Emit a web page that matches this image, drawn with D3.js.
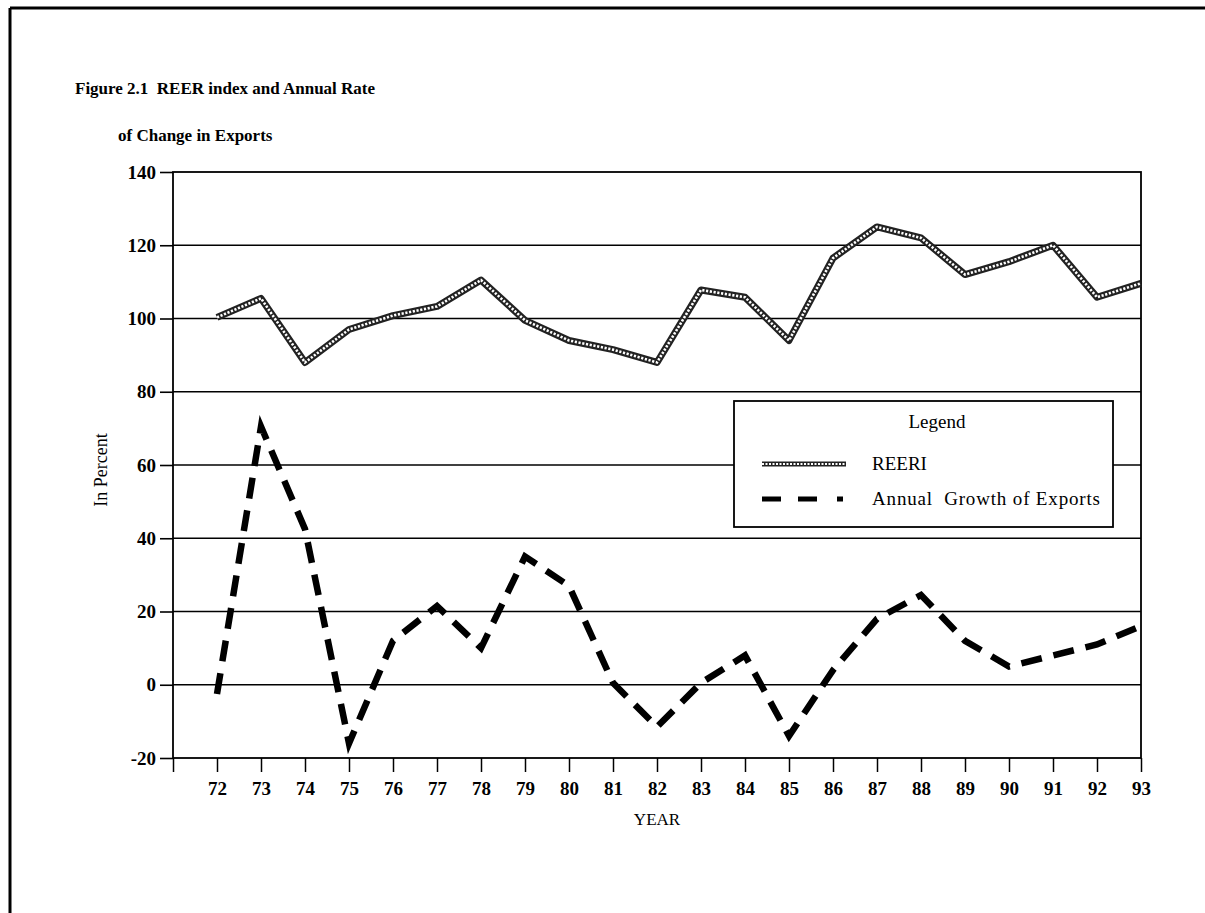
<!DOCTYPE html>
<html>
<head>
<meta charset="utf-8">
<script src="https://cdn.jsdelivr.net/npm/d3@7"></script>
<style>
  html, body { margin: 0; padding: 0; background: #fff; }
  svg { display: block; }
  text { font-family: "Liberation Serif", "DejaVu Serif", serif; fill: #000; white-space: pre; }
</style>
</head>
<body>
<svg id="chart" width="1205" height="913"></svg>
<script>
// ---- data ----
const years = [72,73,74,75,76,77,78,79,80,81,82,83,84,85,86,87,88,89,90,91,92,93];
const reeri = [100.3,105.5,88,97,100.8,103.3,110.5,99.5,94,91.5,88,107.8,105.8,94,116.5,125,122,112,115.5,120,105.8,109.6];
const exportsGrowth = [-2.5,70.5,42.5,-16,12,21.5,10,35,27,0.5,-11.5,0.5,8,-14,4,18,24.5,12,5,8,11,16];
const yTicks = [-20,0,20,40,60,80,100,120,140];
const xTickLabels = years.map(String);
const titleLines = ["Figure 2.1  REER index and Annual Rate", "of Change in Exports"];
const seriesNames = ["REERI", "Annual  Growth of Exports"];

(function () {
// ---- layout ----
const svg = d3.select("#chart");
const W = 1205, H = 913;
const pL = 173, pR = 1141, pT = 172, pB = 758;

svg.append("rect").attr("width", W).attr("height", H).attr("fill", "#fff");
// page frame (top + left)
svg.append("line").attr("x1", 10).attr("x2", W).attr("y1", 8).attr("y2", 8)
  .attr("stroke", "#000").attr("stroke-width", 3);
svg.append("line").attr("x1", 10).attr("x2", 10).attr("y1", 8).attr("y2", H)
  .attr("stroke", "#000").attr("stroke-width", 3);

const x = d3.scaleLinear().domain([71, 93]).range([pL, pR]);
const y = d3.scaleLinear().domain([-20, 140]).range([pB, pT]);

// title
svg.append("text").attr("x", 75).attr("y", 94).attr("font-size", 17).attr("font-weight", "bold")
  .text(titleLines[0]);
svg.append("text").attr("x", 118).attr("y", 141).attr("font-size", 17).attr("font-weight", "bold")
  .text(titleLines[1]);

// gridlines
svg.append("g").selectAll("line").data(yTicks.filter(d => d > -20 && d < 140)).join("line")
  .attr("x1", pL).attr("x2", pR).attr("y1", d => y(d)).attr("y2", d => y(d))
  .attr("stroke", "#000").attr("stroke-width", 1.6);

// frame of plot area
svg.append("rect").attr("x", pL).attr("y", pT).attr("width", pR - pL).attr("height", pB - pT)
  .attr("fill", "none").attr("stroke", "#000").attr("stroke-width", 1.8);

// y axis
const yAxis = d3.axisLeft(y).tickValues(yTicks).tickSize(13).tickPadding(4).tickFormat(d => String(d));
const gy = svg.append("g").attr("transform", `translate(${pL},0)`).call(yAxis);
gy.select(".domain").remove();
gy.selectAll("line").attr("stroke", "#000").attr("stroke-width", 1.6);
gy.selectAll("text").attr("font-size", 19).attr("font-weight", "bold")
  .attr("font-family", "Liberation Serif, serif");

// x axis
const xAxis = d3.axisBottom(x).tickValues(d3.range(71, 94)).tickSize(14).tickPadding(10)
  .tickFormat(d => d === 71 ? "" : String(d));
const gx = svg.append("g").attr("transform", `translate(0,${pB})`).call(xAxis);
gx.select(".domain").remove();
gx.selectAll("line").attr("stroke", "#000").attr("stroke-width", 1.5);
gx.selectAll("text").attr("font-size", 19).attr("font-weight", "bold")
  .attr("font-family", "Liberation Serif, serif");

// axis titles
svg.append("text").attr("x", 657).attr("y", 825).attr("text-anchor", "middle")
  .attr("font-size", 17).text("YEAR");
svg.append("text").attr("transform", "translate(107,470) rotate(-90)").attr("text-anchor", "middle")
  .attr("font-size", 18).text("In Percent");

// lines
const line = d3.line().x((d, i) => x(years[i])).y(d => y(d));
// REERI: chain pattern line
svg.append("path").datum(reeri).attr("d", line).attr("fill", "none")
  .attr("stroke", "#222").attr("stroke-width", 7).attr("stroke-linejoin", "round");
svg.append("path").datum(reeri).attr("d", line).attr("fill", "none")
  .attr("stroke", "#fff").attr("stroke-width", 2.6).attr("stroke-dasharray", "2.2,1.6");

// exports dashed
svg.append("path").datum(exportsGrowth).attr("d", line).attr("fill", "none")
  .attr("stroke", "#000").attr("stroke-width", 6.5).attr("stroke-dasharray", "21,12");

// legend
const lg = svg.append("g");
lg.append("rect").attr("x", 734).attr("y", 401).attr("width", 379).attr("height", 126)
  .attr("fill", "#fff").attr("stroke", "#000").attr("stroke-width", 1.8);
lg.append("text").attr("x", 937).attr("y", 428).attr("text-anchor", "middle").attr("font-size", 19).text("Legend");
lg.append("line").attr("x1", 762).attr("x2", 846).attr("y1", 464).attr("y2", 464)
  .attr("stroke", "#222").attr("stroke-width", 5);
lg.append("line").attr("x1", 762).attr("x2", 846).attr("y1", 464).attr("y2", 464)
  .attr("stroke", "#fff").attr("stroke-width", 1.8).attr("stroke-dasharray", "2,1.5");
lg.append("text").attr("x", 872).attr("y", 470).attr("font-size", 19).text(seriesNames[0]);
lg.append("line").attr("x1", 762).attr("x2", 843).attr("y1", 499).attr("y2", 499)
  .attr("stroke", "#000").attr("stroke-width", 5).attr("stroke-dasharray", "19,17,19,20,6,40");
lg.append("text").attr("x", 872).attr("y", 505).attr("font-size", 19).attr("textLength", 228)
  .attr("lengthAdjust", "spacing").text(seriesNames[1]);
})();
</script>
</body>
</html>
